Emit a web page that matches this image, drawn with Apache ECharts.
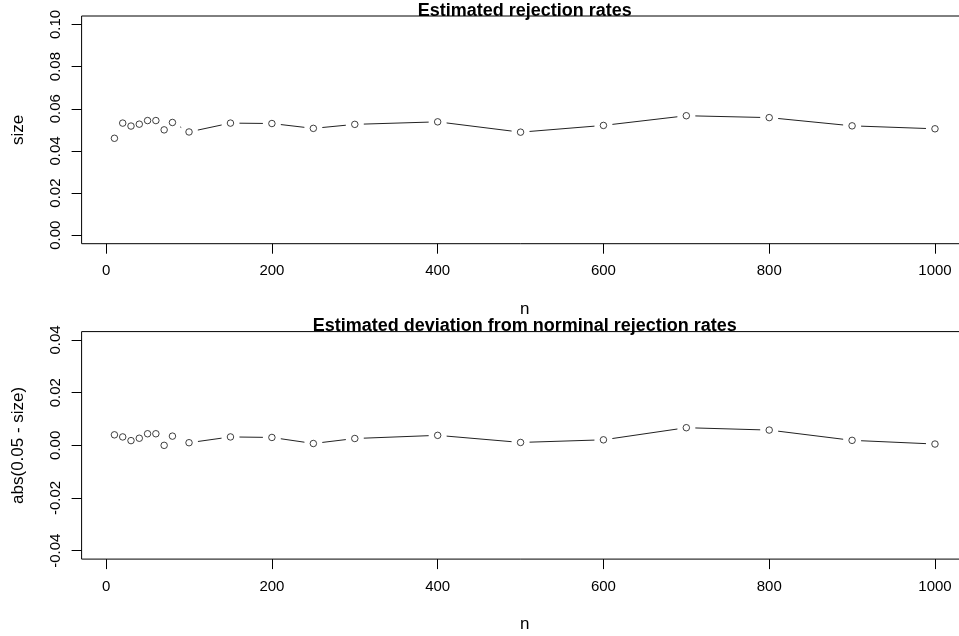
<!DOCTYPE html>
<html>
<head>
<meta charset="utf-8">
<script src="https://cdn.jsdelivr.net/npm/echarts@6/dist/echarts.min.js"></script>
<style>
  html, body { margin: 0; padding: 0; background: #fff; }
  #chart { width: 959px; height: 636px; }
</style>
</head>
<body>
<div id="chart"></div>
<script>
// Sample sizes and estimated rejection rates (nominal level 0.05)
const sampleSizes = [10, 20, 30, 40, 50, 60, 70, 80, 100, 150, 200, 250, 300, 400, 500, 600, 700, 800, 900, 1000];
const rejectionRate = [0.0460, 0.0532, 0.0518, 0.0527, 0.0544, 0.0544, 0.0500, 0.0535, 0.0490, 0.0532, 0.0530,
                       0.0507, 0.0526, 0.0538, 0.0489, 0.0521, 0.0567, 0.0558, 0.0519, 0.0505];
const deviation = [0.0040, 0.0032, 0.0018, 0.0027, 0.0044, 0.0044, 0.0000, 0.0035, 0.0010, 0.0032, 0.0030,
                   0.0007, 0.0026, 0.0038, 0.0011, 0.0021, 0.0067, 0.0058, 0.0019, 0.0005];

// Tick positions
const xTicks = [0, 200, 400, 600, 800, 1000];
const yTicksTop = [0, 0.02, 0.04, 0.06, 0.08, 0.10];
const yTicksBottom = [-0.04, -0.02, 0, 0.02, 0.04];

const FONT = 'Liberation Sans, Arial, sans-serif';
const GAP = 9; // distance kept clear between a segment end and a point centre

function pairs(xs, ys) {
  return xs.map((x, i) => [x, ys[i]]);
}
function segments(xs, ys) {
  const out = [];
  for (let i = 0; i < xs.length - 1; i++) out.push([xs[i], ys[i], xs[i + 1], ys[i + 1]]);
  return out;
}

// Lines between consecutive points, shortened at both ends like plot type "b"
function renderGappedLine(params, api) {
  const a = api.coord([api.value(0), api.value(1)]);
  const b = api.coord([api.value(2), api.value(3)]);
  const dx = b[0] - a[0], dy = b[1] - a[1];
  const len = Math.sqrt(dx * dx + dy * dy);
  if (len <= 2 * GAP) return null;
  const ux = dx / len, uy = dy / len;
  return {
    type: 'line',
    shape: { x1: a[0] + ux * GAP, y1: a[1] + uy * GAP, x2: b[0] - ux * GAP, y2: b[1] - uy * GAP },
    style: { stroke: '#222', lineWidth: 1 }
  };
}

function xAxisCfg(gridIndex) {
  return {
    gridIndex, type: 'value', min: -29.6, max: 1039.6,
    name: 'n', nameLocation: 'middle', nameGap: 57,
    nameTextStyle: { fontFamily: FONT, fontSize: 17, color: '#000' },
    axisLine: { show: false, onZero: false },
    splitLine: { show: false },
    axisTick: { show: true, inside: false, length: 10, customValues: xTicks, lineStyle: { color: '#000' } },
    axisLabel: { customValues: xTicks, margin: 20, fontFamily: FONT, fontSize: 15, color: '#000', formatter: v => String(v) }
  };
}
function yAxisCfg(gridIndex, min, max, ticks, name) {
  return {
    gridIndex, type: 'value', min, max,
    name, nameLocation: 'middle', nameGap: 55,
    nameTextStyle: { fontFamily: FONT, fontSize: 17, color: '#000' },
    axisLine: { show: false, onZero: false },
    splitLine: { show: false },
    axisTick: { show: true, inside: false, length: 10, customValues: ticks, lineStyle: { color: '#000' } },
    axisLabel: {
      customValues: ticks, rotate: 90, margin: 18, fontFamily: FONT, fontSize: 15, color: '#000',
      formatter: v => (Math.abs(v) < 1e-12 ? 0 : v).toFixed(2)
    }
  };
}

// The plot boxes run past the right edge of the page, so bounds clamping is turned off
const chart = echarts.init(document.getElementById('chart'), null, { renderer: 'canvas' });
chart.setOption({
  animation: false,
  backgroundColor: '#fff',
  grid: [
    { left: 81.6, top: 16, width: 886.2, height: 227.7, outerBoundsMode: 'none', containLabel: false,
      show: true, borderColor: '#000', borderWidth: 1, backgroundColor: 'transparent' },
    { left: 81.6, top: 331.6, width: 886.2, height: 227.5, outerBoundsMode: 'none', containLabel: false,
      show: true, borderColor: '#000', borderWidth: 1, backgroundColor: 'transparent' }
  ],
  xAxis: [xAxisCfg(0), xAxisCfg(1)],
  yAxis: [
    yAxisCfg(0, -0.004, 0.104, yTicksTop, 'size'),
    yAxisCfg(1, -0.0432, 0.0432, yTicksBottom, 'abs(0.05 - size)')
  ],
  graphic: [
    { type: 'text', x: 524.7, y: 20, style: { text: 'Estimated rejection rates', font: 'bold 18px ' + FONT, fill: '#000', align: 'center', verticalAlign: 'bottom' } },
    { type: 'text', x: 524.7, y: 335, style: { text: 'Estimated deviation from norminal rejection rates', font: 'bold 18px ' + FONT, fill: '#000', align: 'center', verticalAlign: 'bottom' } }
  ],
  series: [
    {
      type: 'custom', xAxisIndex: 0, yAxisIndex: 0, renderItem: renderGappedLine,
      encode: { x: [0, 2], y: [1, 3] }, data: segments(sampleSizes, rejectionRate), silent: true
    },
    {
      type: 'scatter', xAxisIndex: 0, yAxisIndex: 0, symbol: 'circle', symbolSize: 6.5,
      itemStyle: { color: 'rgba(0,0,0,0)', borderColor: '#111', borderWidth: 1 },
      data: pairs(sampleSizes, rejectionRate), silent: true
    },
    {
      type: 'custom', xAxisIndex: 1, yAxisIndex: 1, renderItem: renderGappedLine,
      encode: { x: [0, 2], y: [1, 3] }, data: segments(sampleSizes, deviation), silent: true
    },
    {
      type: 'scatter', xAxisIndex: 1, yAxisIndex: 1, symbol: 'circle', symbolSize: 6.5,
      itemStyle: { color: 'rgba(0,0,0,0)', borderColor: '#111', borderWidth: 1 },
      data: pairs(sampleSizes, deviation), silent: true
    }
  ]
});
</script>
</body>
</html>
